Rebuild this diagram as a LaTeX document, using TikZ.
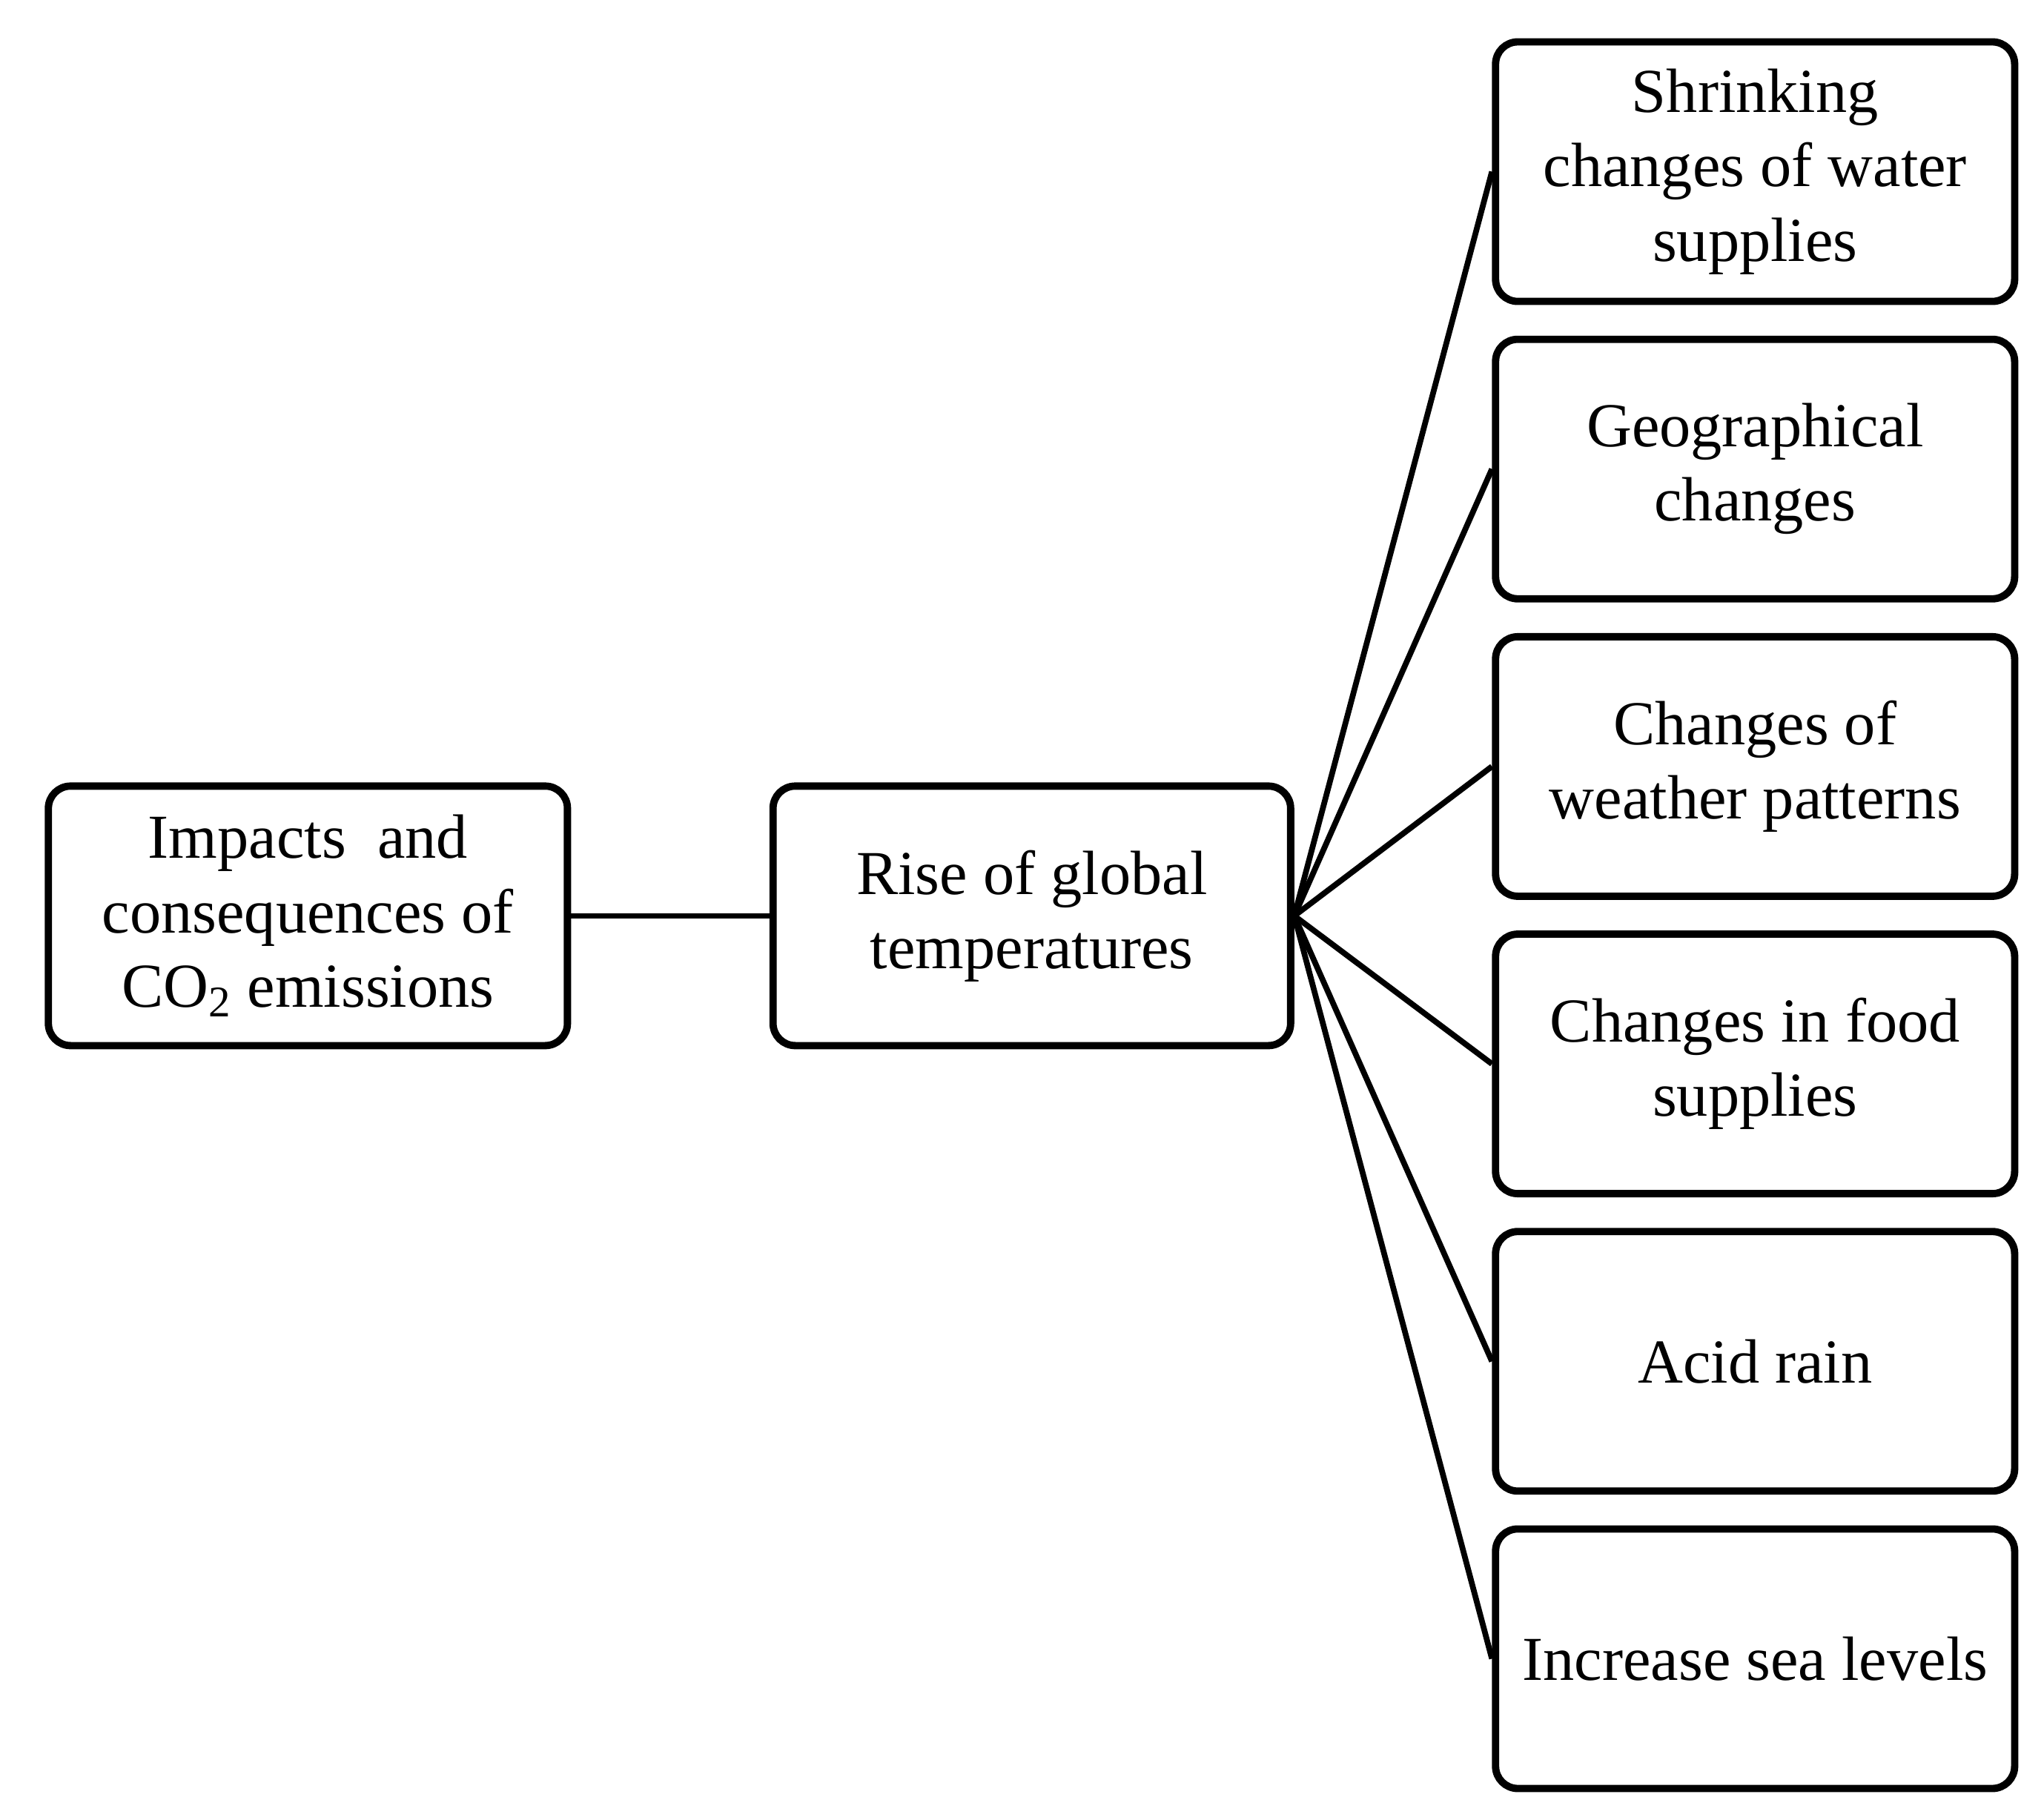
\documentclass[tikz,border=0pt]{standalone}
\usepackage{fontspec}
\setmainfont{Liberation Serif}
\begin{document}
\begin{tikzpicture}[x=0.01767cm,y=-0.01767cm,
  box/.style={draw,line width=2.8pt,rounded corners=0.3cm,minimum width=7cm,minimum height=3.5cm,align=center,inner sep=2pt,font=\fontsize{24}{28.5}\selectfont},
  con/.style={line width=2.2pt}]
\useasboundingbox (0,0) rectangle (1560,1389);
\node[box] (a) at (235,699) {Impacts\ \ and\\consequences of\\CO\textsubscript{2} emissions};
\node[box,minimum width=6.98cm] (b) at (787.5,699) {Rise of global\\temperatures};
\node[box] (r1) at (1339.5,131) {Shrinking\\changes of water\\supplies};
\node[box] (r2) at (1339.5,358) {Geographical\\changes};
\node[box] (r3) at (1339.5,585) {Changes of\\weather patterns};
\node[box] (r4) at (1339.5,812) {Changes in food\\supplies};
\node[box] (r5) at (1339.5,1039) {Acid rain};
\node[box] (r6) at (1339.5,1266) {Increase sea levels};
\draw[con] (a.east) -- (b.west);
\foreach \r in {r1,r2,r3,r4,r5,r6} \draw[con] (b.east) -- (\r.west);
\end{tikzpicture}
\end{document}
